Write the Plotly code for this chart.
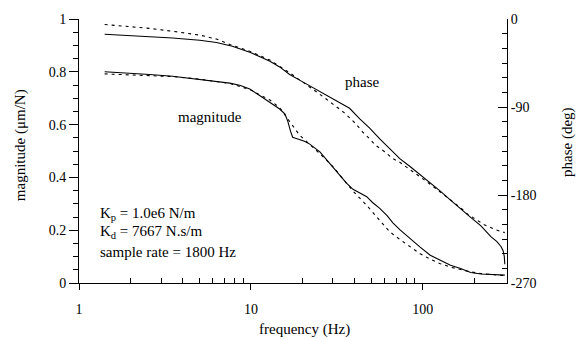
import plotly.graph_objects as go

# Measured magnitude response (um/N)
mag_meas_freq = [1.41, 1.8, 2.57, 3.5, 5.04, 6.3, 7.54, 8.7, 9.85, 11.3, 12.9, 14.0, 14.7,
                 15.8, 16.4, 17.0, 17.5, 18.2, 19.2, 20.5, 22.0, 25.2, 28.0, 30.1, 33.0,
                 36.0, 39.3, 42.0, 47.2, 51.0, 56.2, 62.0, 67.0, 73.5, 84.3, 96.5, 110.5,
                 126.5, 145.0, 166.0, 190.0, 218.0, 249.0, 280.0, 300.0]
mag_meas = [0.800, 0.797, 0.790, 0.783, 0.771, 0.765, 0.757, 0.748, 0.735, 0.709, 0.684,
            0.668, 0.659, 0.640, 0.612, 0.575, 0.552, 0.548, 0.542, 0.537, 0.526, 0.497,
            0.462, 0.437, 0.404, 0.378, 0.355, 0.345, 0.327, 0.305, 0.283, 0.255, 0.228,
            0.202, 0.168, 0.136, 0.105, 0.086, 0.067, 0.055, 0.040, 0.034, 0.033, 0.031,
            0.030]

# Model magnitude response (um/N)
mag_model_freq = [1.41, 2.57, 3.5, 5.04, 7.54, 9.85, 12.9, 14.7, 16.8, 19.2, 22.0, 25.2,
                  30.1, 33.0, 39.3, 47.2, 56.2, 64.0, 73.5, 84.3, 96.5, 110.5, 126.5,
                  145.0, 166.0, 190.0, 218.0, 249.0, 300.0]
mag_model = [0.792, 0.787, 0.782, 0.772, 0.756, 0.733, 0.693, 0.664, 0.612, 0.560, 0.525,
             0.490, 0.440, 0.408, 0.348, 0.294, 0.238, 0.195, 0.165, 0.137, 0.111, 0.090,
             0.073, 0.060, 0.050, 0.042, 0.036, 0.032, 0.028]

# Measured phase response (deg)
ph_meas_freq = [1.41, 2.0, 2.57, 3.5, 5.04, 6.3, 7.8, 9.85, 11.3, 12.9, 14.7, 16.8, 19.2,
                22.0, 25.0, 28.7, 33.0, 37.5, 43.0, 49.1, 56.2, 64.0, 73.5, 84.3, 96.5,
                110.5, 126.5, 145.0, 166.0, 190.0, 218.0, 249.0, 270.0, 285.0, 293.0,
                298.0, 300.0]
ph_meas = [-15.6, -16.8, -18.0, -19.5, -21.7, -24.0, -27.8, -34.0, -38.5, -43.2, -49.0,
           -56.7, -62.5, -68.4, -74.0, -80.2, -86.0, -91.3, -102.1, -111.5, -122.6,
           -132.7, -142.8, -150.9, -159.0, -167.5, -176.1, -185.2, -194.3, -202.9,
           -211.5, -222.5, -227.6, -232.6, -236.7, -242.8, -250.8]

# Model phase response (deg)
ph_model_freq = [1.41, 2.0, 2.57, 3.5, 5.04, 6.3, 7.54, 9.85, 12.9, 16.8, 19.2, 22.0, 24.4,
                 30.0, 35.0, 40.7, 44.7, 49.0, 53.0, 60.0, 66.6, 73.5, 84.3, 96.5, 110.5,
                 126.5, 145.0, 166.0, 180.0, 200.0, 228.0, 265.0, 300.0]
ph_model = [-5.6, -7.6, -9.6, -12.5, -16.5, -20.5, -26.0, -33.0, -42.0, -55.0, -62.0,
            -70.0, -75.2, -87.0, -96.0, -107.0, -115.6, -122.3, -129.0, -135.7, -142.5,
            -146.5, -154.0, -161.0, -169.0, -177.0, -185.0, -193.0, -199.0, -204.4,
            -210.4, -215.5, -218.5]

freq_tick_vals = [1, 10, 100]
freq_tick_text = ["1", "10", "100"]
freq_minor_vals = [2, 3, 4, 5, 6, 7, 8, 9, 20, 30, 40, 50, 60, 70, 80, 90, 200]
freq_range_log = [0, 2.49]

mag_range = [0, 1]
mag_minor_vals = [0.05, 0.1, 0.15, 0.25, 0.3, 0.35, 0.45, 0.5, 0.55, 0.65, 0.7, 0.75,
                  0.85, 0.9, 0.95]
ph_range = [-270, 0]
ph_minor_vals = [-255, -240, -225, -210, -195, -165, -150, -135, -120, -105,
                 -75, -60, -45, -30, -15]

# Phase tick labels are shown with a plain hyphen
ph_label_alias = {"\u221290": "-90", "\u2212180": "-180", "\u2212270": "-270"}

FONT = "Liberation Serif"
INK = "#000000"

fig = go.Figure()
line_solid = dict(color=INK, width=1.1)
line_dash = dict(color=INK, width=1.1, dash="3px,4px")

# Each curve sits on one of the twin axes; twins share the same ranges, so the
# curves line up, while each twin draws one set of tick marks.
fig.add_trace(go.Scatter(x=mag_meas_freq, y=mag_meas, mode="lines", line=line_solid,
                         name="magnitude", xaxis="x", yaxis="y"))
fig.add_trace(go.Scatter(x=mag_model_freq, y=mag_model, mode="lines", line=line_dash,
                         name="magnitude model", xaxis="x3", yaxis="y3"))
fig.add_trace(go.Scatter(x=ph_meas_freq, y=ph_meas, mode="lines", line=line_solid,
                         name="phase", xaxis="x2", yaxis="y2"))
fig.add_trace(go.Scatter(x=ph_model_freq, y=ph_model, mode="lines", line=line_dash,
                         name="phase model", xaxis="x2", yaxis="y4"))

tick_font = dict(family=FONT, size=14, color=INK)
plain = dict(showgrid=False, zeroline=False)

fig.update_layout(
    width=578, height=339,
    margin=dict(l=79, r=71, t=15, b=56),
    paper_bgcolor="white", plot_bgcolor="white",
    showlegend=False,
    font=dict(family=FONT, size=15, color=INK),
    # frequency axis: line and decade ticks below
    xaxis=dict(
        type="log", range=freq_range_log,
        tickmode="array", tickvals=freq_tick_vals,
        ticks="outside", ticklen=6, tickwidth=1.2, tickcolor=INK,
        showticklabels=False,
        showline=True, linecolor=INK, linewidth=1, **plain,
    ),
    # twin frequency axis carrying the decade labels
    xaxis2=dict(
        type="log", range=freq_range_log, overlaying="x", anchor="y2", side="bottom",
        tickmode="array", tickvals=freq_tick_vals, ticktext=freq_tick_text,
        ticks="", showline=False, **plain,
        tickfont=tick_font, ticklabelstandoff=16,
    ),
    # twin frequency axis carrying the 2..9 ticks, pointing up
    xaxis3=dict(
        type="log", range=freq_range_log, overlaying="x", anchor="y3", side="bottom",
        tickmode="array", tickvals=freq_minor_vals,
        ticks="inside", ticklen=5, tickwidth=1.1, tickcolor=INK,
        showticklabels=False, showline=False, **plain,
    ),
    yaxis=dict(
        range=mag_range,
        tickmode="linear", tick0=0, dtick=0.2,
        ticks="outside", ticklen=9, tickwidth=1.2, tickcolor=INK,
        showline=True, linecolor=INK, linewidth=1, **plain,
        tickfont=tick_font,
    ),
    yaxis3=dict(
        range=mag_range, overlaying="y", anchor="x3", side="left",
        tickmode="array", tickvals=mag_minor_vals,
        ticks="outside", ticklen=5, tickwidth=1.1, tickcolor=INK,
        showticklabels=False, showline=False, **plain,
    ),
    yaxis2=dict(
        range=ph_range, overlaying="y", side="right", anchor="x2",
        tickmode="linear", tick0=0, dtick=90, labelalias=ph_label_alias,
        ticks="inside", ticklen=9, tickwidth=1.2, tickcolor=INK,
        showline=True, linecolor=INK, linewidth=1, **plain,
        tickfont=tick_font,
    ),
    yaxis4=dict(
        range=ph_range, overlaying="y", side="right", anchor="x2",
        tickmode="array", tickvals=ph_minor_vals,
        ticks="inside", ticklen=5, tickwidth=1.1, tickcolor=INK,
        showticklabels=False, showline=False, **plain,
    ),
)

annotations = [
    dict(text="frequency (Hz)", x=0.528, y=-0.175, textangle=0),
    dict(text="magnitude (\u03bcm/N)", x=-0.138, y=0.522, textangle=-90),
    dict(text="phase (deg)", x=1.14, y=0.534, textangle=-90),
    dict(text="phase", x=0.661, y=0.761, textangle=0),
    dict(text="magnitude", x=0.306, y=0.627, textangle=0),
]
for a in annotations:
    fig.add_annotation(xref="paper", yref="paper", showarrow=False,
                       xanchor="center", yanchor="middle",
                       font=dict(family=FONT, size=15, color=INK), **a)

params = [
    ("K<sub>p</sub> = 1.0e6 N/m", 0.262),
    ("K<sub>d</sub> = 7667 N.s/m", 0.194),
    ("sample rate = 1800 Hz", 0.116),
]
for txt, yy in params:
    fig.add_annotation(xref="paper", yref="paper", showarrow=False,
                       x=0.044, y=yy, xanchor="left", yanchor="middle", text=txt,
                       font=dict(family=FONT, size=15, color=INK))

fig.write_html("out.html")
